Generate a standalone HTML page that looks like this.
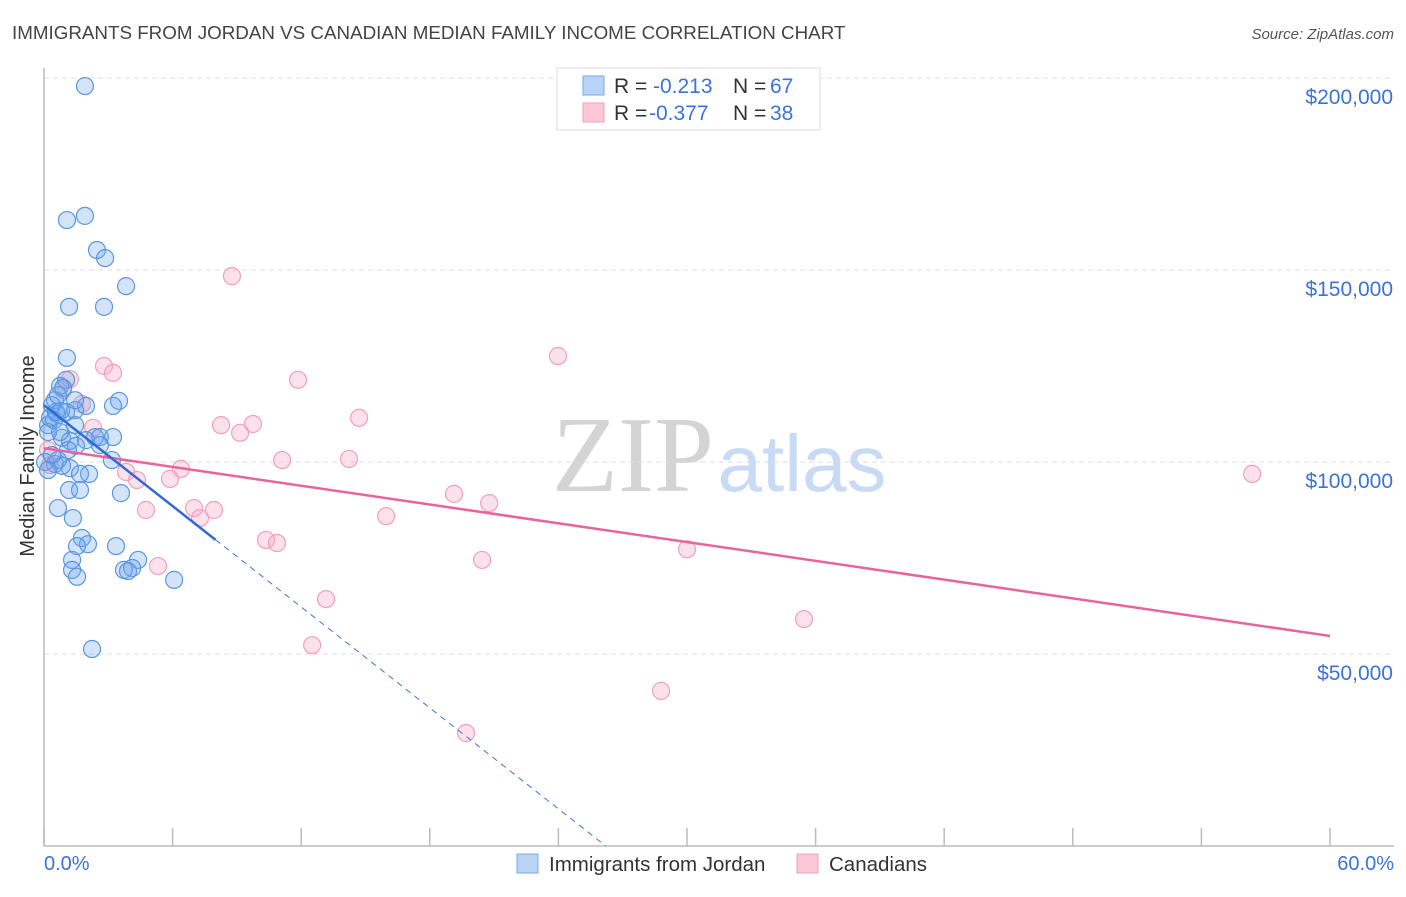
<!DOCTYPE html>
<html><head><meta charset="utf-8"><style>
body{margin:0;width:1406px;height:892px;background:#fff;font-family:"Liberation Sans",sans-serif;overflow:hidden}
</style></head><body>
<svg id="chart" width="1406" height="892" xmlns="http://www.w3.org/2000/svg" font-family="Liberation Sans, sans-serif">
<text x="12" y="39" font-size="18.8" fill="#444">IMMIGRANTS FROM JORDAN VS CANADIAN MEDIAN FAMILY INCOME CORRELATION CHART</text>
<text x="1394" y="39" font-size="15" fill="#555" font-style="italic" text-anchor="end">Source: ZipAtlas.com</text>
<g>
<text x="633" y="491" font-size="108" fill="#d4d4d4" font-family="Liberation Serif, serif" text-anchor="middle">ZIP</text>
<text x="802" y="491" font-size="80" fill="#c8daf4" text-anchor="middle">atlas</text>
</g>
<g id="grid"></g>
<line x1="44" y1="68" x2="44" y2="846" stroke="#bbb" stroke-width="1.5"/>
<line x1="44" y1="846" x2="1394" y2="846" stroke="#bbb" stroke-width="1.5"/>
<text transform="translate(34,456) rotate(-90)" font-size="20" fill="#333" text-anchor="middle">Median Family Income</text>
<text x="44" y="870" font-size="20" fill="#3b73d9">0.0%</text>
<text x="1394" y="870" font-size="20" fill="#3b73d9" text-anchor="end">60.0%</text>
<g id="pts"></g>
<g id="trends"></g>
<g>
<rect x="557" y="68" width="263" height="62" fill="#fff" stroke="#ddd"/>
<rect x="583" y="76" width="21" height="19" fill="#b8d3f6" stroke="#7aa8e8"/>
<rect x="583" y="103" width="21" height="19" fill="#fcc8d8" stroke="#f0a0b8"/>
<text x="614" y="93" font-size="21" fill="#333">R = </text><text x="653" y="93" font-size="21" fill="#3b73d9">-0.213</text>
<text x="733" y="93" font-size="21" fill="#333">N = </text><text x="770" y="93" font-size="21" fill="#3b73d9">67</text>
<text x="614" y="120" font-size="21" fill="#333">R = </text><text x="649" y="120" font-size="21" fill="#3b73d9">-0.377</text>
<text x="733" y="120" font-size="21" fill="#333">N = </text><text x="770" y="120" font-size="21" fill="#3b73d9">38</text>
</g>
<g>
<rect x="517" y="854" width="21" height="19" fill="#b8d3f6" stroke="#7aa8e8"/>
<text x="549" y="871" font-size="20.5" fill="#333">Immigrants from Jordan</text></g>
<g>
<rect x="797" y="854" width="21" height="19" fill="#fcc8d8" stroke="#f0a0b8"/>
<text x="829" y="871" font-size="20.5" fill="#333">Canadians</text></g>
</svg>
<script>
const yTicks=[50000,100000,150000,200000];
const yTickLabels=["$50,000","$100,000","$150,000","$200,000"];
const xTicks=[0,6,12,18,24,30,36,42,48,54,60];
const blueX=[1.91,1.07,1.91,2.47,2.85,3.83,1.17,2.80,1.07,1.03,0.75,0.51,0.37,0.61,0.79,0.89,1.96,3.50,3.22,1.45,0.19,1.45,0.84,2.61,3.22,1.21,1.96,1.49,3.17,0.05,0.51,1.21,0.65,2.10,1.68,1.17,1.68,3.59,0.65,1.35,1.77,2.05,1.54,3.36,4.39,1.31,1.31,1.54,3.73,4.11,3.92,6.07,2.24,0.84,0.28,0.47,0.56,1.03,0.19,0.75,0.37,2.38,2.61,1.45,0.65,1.12,0.19];
const blueY=[197.9,163.0,164.1,155.2,153.1,145.8,140.4,140.4,127.1,121.4,119.8,116.1,114.8,112.5,113.3,119.3,114.6,115.9,114.6,113.5,109.6,109.6,106.3,106.5,106.5,105.5,105.7,104.2,100.5,100.0,99.5,98.4,100.5,96.9,96.9,92.7,92.7,91.9,88.0,85.4,80.2,78.6,78.1,78.1,74.5,74.5,71.9,70.1,71.9,72.4,71.6,69.3,51.3,99.0,111.5,110.9,113.0,113.0,107.8,107.8,101.8,106.5,104.4,116.1,117.4,103.1,97.9];
const pinkX=[8.77,23.98,2.80,3.22,1.21,11.85,0.89,1.77,14.70,8.26,9.75,9.15,2.29,11.11,14.23,6.39,5.88,3.83,4.34,19.13,20.77,7.00,7.93,4.76,7.28,15.96,10.36,10.87,30.00,5.32,20.44,13.16,35.46,12.51,28.79,19.69,56.37,0.19,0.28];
const pinkY=[148.4,127.6,125.0,123.2,121.6,121.4,118.8,115.1,111.5,109.6,109.9,107.6,108.9,100.5,100.8,98.2,95.6,97.4,95.3,91.7,89.3,88.0,87.5,87.5,85.4,85.9,79.7,78.9,77.3,72.9,74.5,64.3,59.1,52.3,40.4,29.4,96.9,103.1,99.2];
const blueTrend=[114.8,-4.38];
const pinkTrend=[103.6,-0.815];
const NS="http://www.w3.org/2000/svg";
const xs=v=>44+v/60*1286;
const ys=v=>846-v/200000*768;
function mk(t,a,p){const e=document.createElementNS(NS,t);for(const k in a)e.setAttribute(k,a[k]);p.appendChild(e);return e;}
const grid=document.getElementById('grid');
yTicks.forEach((t,i)=>{
 const l=mk('line',{x1:44,x2:1394,y1:ys(t),y2:ys(t),stroke:'#ddd','stroke-dasharray':'5,4'},grid);
 
 
 const tx=mk('text',{x:1393,y:ys(t)+26,'font-size':21,fill:'#3b73d9','text-anchor':'end'},grid);
 tx.textContent=yTickLabels[i];
 
 
});
xTicks.forEach(t=>{
 const l=mk('line',{x1:xs(t),x2:xs(t),y1:828,y2:846,stroke:'#bbb','stroke-width':1.5},grid);
 
 
});
const pts=document.getElementById('pts');
pinkX.forEach((x,i)=>{
 const c=mk('circle',{cx:xs(x),cy:ys(pinkY[i]*1000),r:8.5,fill:'rgba(248,170,196,0.35)',stroke:'#f0a0b8','stroke-width':1.2},pts);
 
 
});
blueX.forEach((x,i)=>{
 const c=mk('circle',{cx:xs(x),cy:ys(blueY[i]*1000),r:8.5,fill:'rgba(110,165,240,0.3)',stroke:'#5a96e0','stroke-width':1.2},pts);
 
 
});
const tr=document.getElementById('trends');
const by=x=>(blueTrend[0]+blueTrend[1]*x)*1000;
const py=x=>(pinkTrend[0]+pinkTrend[1]*x)*1000;
const zeroX=-blueTrend[0]/blueTrend[1];
let e=mk('line',{x1:xs(0),y1:ys(py(0)),x2:xs(60),y2:ys(py(60)),stroke:'#e8649a','stroke-width':2.5},tr);


e=mk('line',{x1:xs(8),y1:ys(by(8)),x2:xs(zeroX),y2:ys(0),stroke:'#3b73d9','stroke-width':1,'stroke-dasharray':'6,5'},tr);


e=mk('line',{x1:xs(0),y1:ys(by(0)),x2:xs(8),y2:ys(by(8)),stroke:'#2f6ad6','stroke-width':2.5},tr);


</script>
</body></html>
